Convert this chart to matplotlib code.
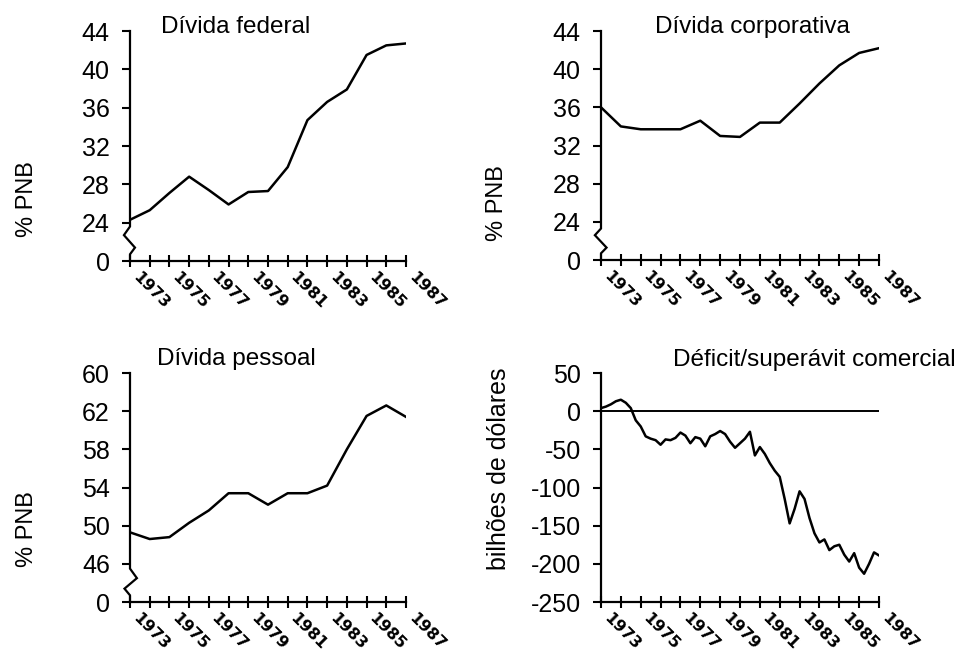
import matplotlib
matplotlib.use("Agg")
import matplotlib.pyplot as plt
import matplotlib.transforms as mtransforms

plt.rcParams["font.family"] = ["Liberation Sans", "DejaVu Sans"]
plt.rcParams["axes.unicode_minus"] = False

# anos (eixo x comum)
years = list(range(1973, 1988))
year_labels = years[::2]

# % PNB
federal = [24.3, 25.3, 27.1, 28.8, 27.4, 25.9, 27.2, 27.3, 29.8, 34.7, 36.6, 37.9, 41.5, 42.5, 42.7]
corporativa = [36.0, 34.0, 33.7, 33.7, 33.7, 34.6, 33.0, 32.9, 34.4, 34.4, 36.4, 38.5, 40.4, 41.7, 42.2]
pessoal = [49.3, 48.6, 48.8, 50.3, 51.6, 53.4, 53.4, 52.2, 53.4, 53.4, 54.2, 58.0, 61.5, 62.6, 61.4]

# deficit/superavit comercial, trimestral, bilhoes de dolares
quarters = [1973 + q / 4 for q in range(57)]
comercial = [4, 6, 9, 13, 15, 11, 4, -12, -20, -33, -36, -38, -44, -37, -38, -35,
             -28, -32, -42, -34, -36, -46, -33, -30, -26, -30, -40, -48, -42, -36,
             -27, -58, -47, -56, -68, -78, -86, -115, -147, -128, -105, -115, -140,
             -160, -172, -168, -182, -177, -175, -188, -197, -186, -205, -213, -200,
             -185, -189]

# escalas com eixo interrompido: posicao do "0" fica um passo abaixo
ticks_fed = [20, 24, 28, 32, 36, 40, 44]
labels_fed = ["0", "24", "28", "32", "36", "40", "44"]
ticks_pes = [42, 46, 50, 54, 58, 62, 66]
labels_pes = ["0", "46", "50", "54", "58", "62", "60"]
ticks_com = [-250, -200, -150, -100, -50, 0, 50]

W, H = 972, 656
fig = plt.figure(figsize=(W / 100, H / 100), dpi=100)


def make_axes(x0, x1, ytop, ybot):
    return fig.add_axes([x0 / W, 1 - ybot / H, (x1 - x0) / W, (ybot - ytop) / H])


def style(ax, title, tx, ty, ylabel, lx, ly, lsize=17):
    ax.spines["top"].set_visible(False)
    ax.spines["right"].set_visible(False)
    for s in ("left", "bottom"):
        ax.spines[s].set_linewidth(1.6)
    ax.set_xlim(1973, 1987)
    ax.set_xticks(years)
    ax.set_xticklabels([])
    ax.tick_params(axis="x", direction="inout", length=8, width=1.5)
    ax.tick_params(axis="y", direction="out", length=6, width=1.5, pad=8.5,
                   labelsize=18)
    ax.text(tx, ty, title, transform=ax.transAxes, ha="center", va="baseline",
            fontsize=17.5)
    ax.text(lx, ly, ylabel, transform=ax.transAxes, ha="center",
            va="center", rotation=90, fontsize=lsize)
    tr = mtransforms.offset_copy(ax.get_xaxis_transform(), fig=fig,
                                 x=5, y=-14, units="dots")
    for yr in year_labels:
        ax.text(yr, 0, str(yr), transform=tr, rotation=-45,
                rotation_mode="anchor", ha="left", va="center",
                fontsize=11.5, family="DejaVu Sans", weight="semibold")


def zigzag(ax, ys, xs):
    ax.spines["left"].set_visible(False)
    tr = mtransforms.blended_transform_factory(ax.transAxes, ax.transData)
    ax.plot(xs, ys, color="black", lw=1.6, transform=tr, clip_on=False,
            solid_joinstyle="miter")


# Divida federal
ax1 = make_axes(130, 406, 31, 261)
ax1.plot(years, federal, color="black", lw=1.8)
ax1.set_ylim(20, 44)
ax1.set_yticks(ticks_fed)
ax1.set_yticklabels(labels_fed)
style(ax1, "Dívida federal", 0.383, 0.99, "% PNB", -0.375, 0.27)
zigzag(ax1, [44, 23.6, 22.7, 21.4, 20.7, 20], [0, 0, -0.022, 0.018, 0, 0])

# Divida corporativa
ax2 = make_axes(601, 879, 31, 260)
ax2.plot(years, corporativa, color="black", lw=1.8)
ax2.set_ylim(20, 44)
ax2.set_yticks(ticks_fed)
ax2.set_yticklabels(labels_fed)
style(ax2, "Dívida corporativa", 0.543, 0.99, "% PNB", -0.375, 0.25)
zigzag(ax2, [44, 23.3, 22.6, 21.3, 20.7, 20], [0, 0, -0.022, 0.02, 0, 0])

# Divida pessoal
ax3 = make_axes(130, 406, 373, 602)
ax3.plot(years, pessoal, color="black", lw=1.8)
ax3.set_ylim(42, 66)
ax3.set_yticks(ticks_pes)
ax3.set_yticklabels(labels_pes)
style(ax3, "Dívida pessoal", 0.386, 1.035, "% PNB", -0.375, 0.32)
zigzag(ax3, [66, 45.5, 44.5, 43.4, 42.7, 42], [0, 0, 0.025, -0.02, 0, 0])

# Deficit/superavit comercial
ax4 = make_axes(601, 879, 373, 602)
ax4.axhline(0, color="black", lw=1.4)
ax4.plot(quarters, comercial, color="black", lw=1.8)
ax4.set_ylim(-250, 50)
ax4.set_yticks(ticks_com)
style(ax4, "Déficit/superávit comercial", 0.766, 1.03, "bilhões de dólares",
      -0.367, 0.58, lsize=18)

fig.savefig("out.png", dpi=100)
